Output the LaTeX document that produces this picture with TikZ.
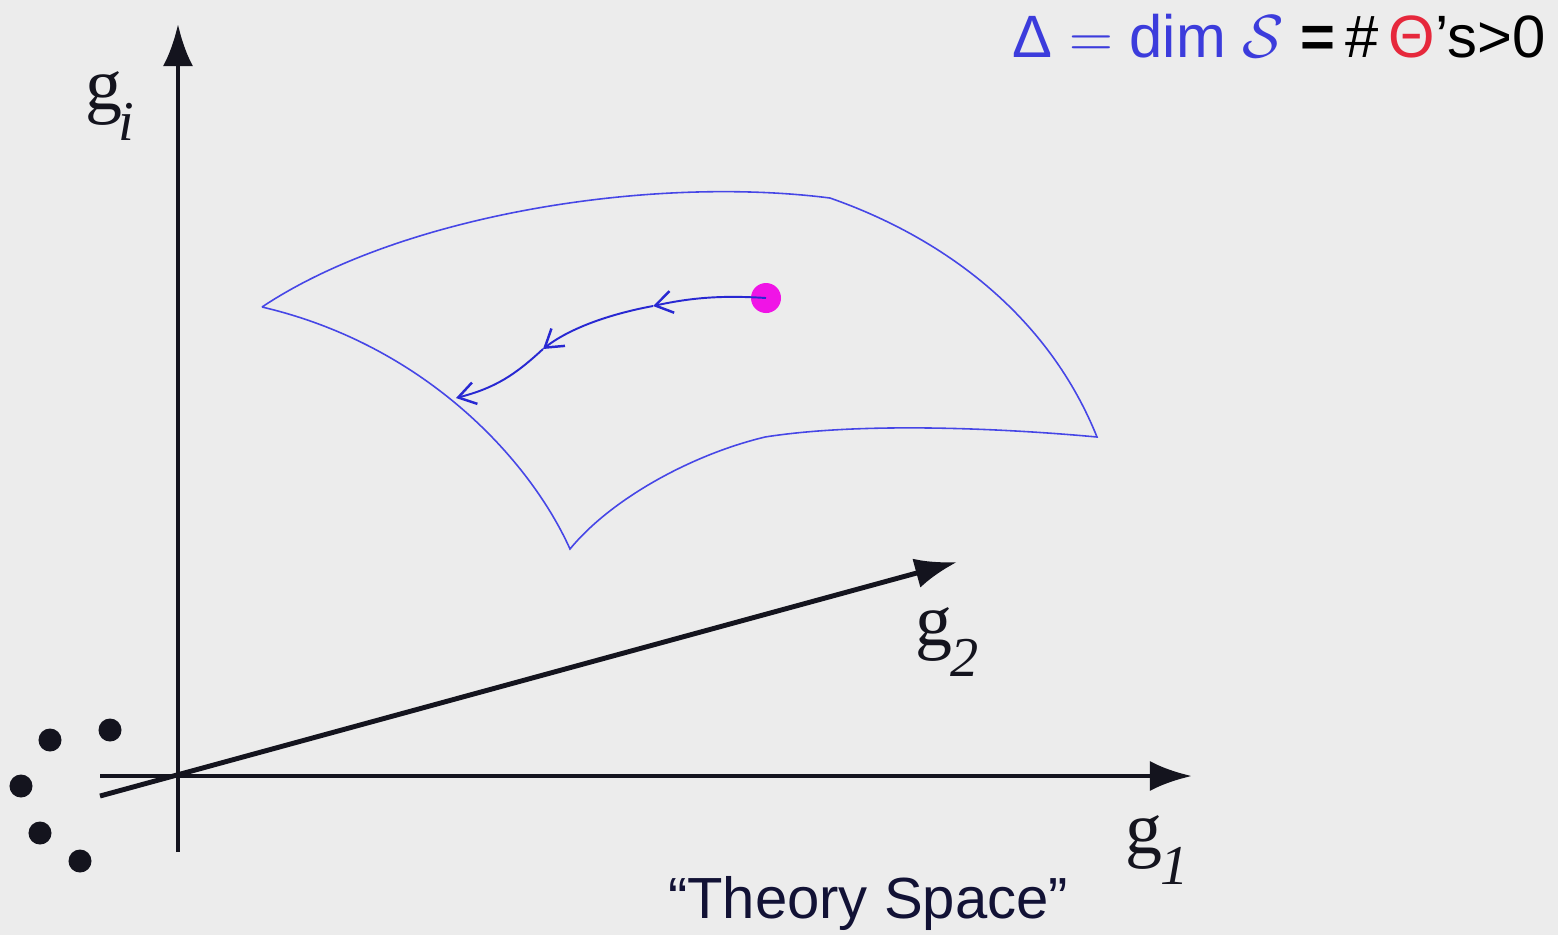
\documentclass[tikz,border=0pt]{standalone}
\usepackage{fontspec}
\setmainfont{Liberation Sans}
\newfontfamily\timesfont{Liberation Serif}
\usetikzlibrary{arrows.meta}
\definecolor{bgcol}{RGB}{236,236,236}
\definecolor{axcol}{RGB}{20,20,30}
\definecolor{surfblue}{RGB}{70,70,230}
\definecolor{flowblue}{RGB}{40,40,210}
\definecolor{dotmag}{RGB}{240,20,230}
\definecolor{txtblue}{RGB}{60,60,220}
\definecolor{txtred}{RGB}{230,40,60}
\tikzset{
  axis/.style={line width=1.4pt, draw=axcol, -{Latex[length=0.42cm,width=0.3cm]}},
  surf/.style={draw=surfblue, line width=0.45pt},
  flow/.style={draw=flowblue, line width=0.55pt, -{Straight Barb[length=0.17cm,width=0.22cm,line width=0.7pt]}},
  bdot/.style={circle, fill=axcol, inner sep=0pt, minimum size=0.23cm},
  axlabel/.style={font=\timesfont\fontsize{21}{24}\selectfont, text=axcol, inner sep=0pt}
}
\newcommand{\axsub}[2][-0.04em]{\raisebox{-0.42em}{\itshape\fontsize{16}{20}\selectfont\kern#1 #2}}
\begin{document}
\begin{tikzpicture}[x=0.01cm,y=-0.01cm]
\fill[bgcol] (0,0) rectangle (1558,935);
\useasboundingbox (0,0) rectangle (1558,935);
% axes
\coordinate (vb) at (178,852);
\coordinate (vt) at (178,24);
\coordinate (hb) at (100,776);
\coordinate (ht) at (1192,776);
\coordinate (db) at (100,796);
\coordinate (dt) at (957,562);
\draw[axis] (vb) -- (vt);
\draw[axis] (hb) -- (ht);
\draw[axis] (db) -- (dt);
% axis labels
\node[axlabel] (gi) at (110,106) {g\axsub[-0.06em]{i}};
\node[axlabel] (g2) at (947,642) {g\axsub{2}};
\node[axlabel] (g1) at (1157,850) {g\axsub{1}};
% surface
\coordinate (sl) at (262,307);
\coordinate (st) at (830,198);
\coordinate (sr) at (1097,437);
\coordinate (sm) at (765,437);
\coordinate (sb) at (570,549);
\draw[surf] (sl) .. controls (400,215) and (650,175) .. (st)
  .. controls (950,240) and (1050,320) .. (sr)
  .. controls (1000,428) and (860,422) .. (sm)
  .. controls (690,455) and (610,500) .. (sb)
  .. controls (530,460) and (425,345) .. (sl);
% flow
\node[circle, fill=dotmag, inner sep=0pt, minimum size=0.3cm] (pt) at (766,298) {};
\coordinate (f1) at (653,306);
\coordinate (f2) at (543,349);
\coordinate (f3) at (456,398);
\draw[flow] (pt.center) .. controls (720,295) and (690,298) .. (f1);
\draw[flow] (f1) .. controls (610,314) and (570,328) .. (f2);
\draw[flow] (f2) .. controls (515,375) and (495,388) .. (f3);
% dots
\node[bdot] (d1) at (50,740) {};
\node[bdot] (d2) at (110,730) {};
\node[bdot] (d3) at (21,786) {};
\node[bdot] (d4) at (40,833) {};
\node[bdot] (d5) at (80,861) {};
% texts
\node[anchor=base east, inner sep=0pt, font=\fontsize{17}{20}\selectfont] (eq) at (1546,57)
 {\textcolor{txtblue}{Δ $\mathrel{\textcolor{txtblue}{=}}$ dim $\textcolor{txtblue}{\mathcal{S}}$}
  \textbf{=}\,\#\,\textcolor{txtred}{Θ}’s>0};
\node[anchor=base, inner sep=0pt, font=\fontsize{16.5}{20}\selectfont, text=axcol!90!blue] (ts) at (868,918) {“Theory Space”};
\end{tikzpicture}
\end{document}
